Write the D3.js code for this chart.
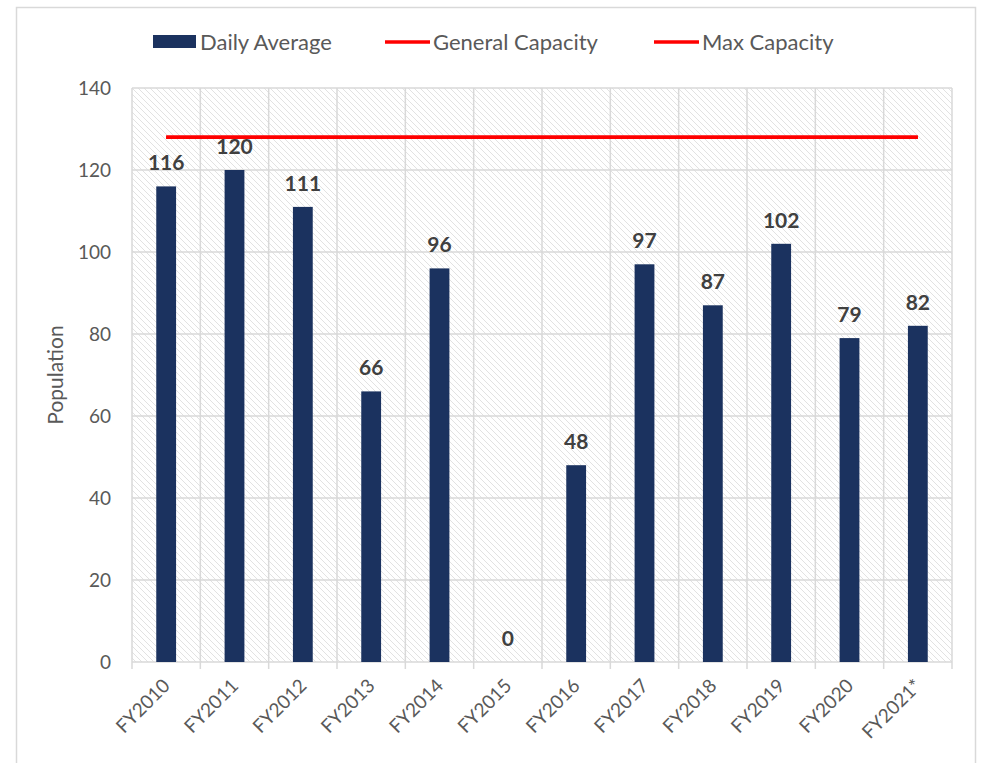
<!DOCTYPE html>
<html>
<head>
<meta charset="utf-8">
<script src="https://cdn.jsdelivr.net/npm/d3@7"></script>
<style>
  body { margin: 0; background: #fff; }
  svg { font-family: Lato, "Open Sans", sans-serif; }
  .axis path { display: none; }
  .axis text { fill: #595959; font-size: 19px; font-family: Lato, "Open Sans", sans-serif; }
</style>
</head>
<body>
<svg width="982" height="763"></svg>
<script>
var years = ["FY2010", "FY2011", "FY2012", "FY2013", "FY2014", "FY2015",
             "FY2016", "FY2017", "FY2018", "FY2019", "FY2020", "FY2021*"];
var dailyAverage = [116, 120, 111, 66, 96, 0, 48, 97, 87, 102, 79, 82];
var generalCapacity = [128, 128, 128, 128, 128, 128, 128, 128, 128, 128, 128, 128];
var maxCapacity = [128, 128, 128, 128, 128, 128, 128, 128, 128, 128, 128, 128];
var yTicks = [0, 20, 40, 60, 80, 100, 120, 140];
var legendKeys = ["Daily Average", "General Capacity", "Max Capacity"];

var svg = d3.select("svg"),
    margin = {top: 88, right: 30, bottom: 101, left: 132},
    width = 952 - margin.left,
    height = 662 - margin.top;

var barColor = "#1b325f", red = "#ff0000", grid = "#d9d9d9";

// outer frame
svg.append("rect")
    .attr("x", 16.5).attr("y", 7.5)
    .attr("width", 959).attr("height", 770)
    .attr("fill", "none")
    .attr("stroke", grid)
    .attr("stroke-width", 1.5);

// hatch pattern for plot area
var pat = svg.append("defs").append("pattern")
    .attr("id", "hatch")
    .attr("patternUnits", "userSpaceOnUse")
    .attr("width", 6).attr("height", 6);
pat.append("path")
    .attr("d", "M-1,-1 L7,7 M-1,5 L1,7 M5,-1 L7,1")
    .attr("stroke", "#e2e2e2")
    .attr("stroke-width", 1);

var x = d3.scaleBand().domain(years).range([0, width]);
var y = d3.scaleLinear().domain([0, 140]).range([height, 0]);

var g = svg.append("g")
    .attr("transform", "translate(" + margin.left + "," + margin.top + ")");

g.append("rect")
    .attr("width", width)
    .attr("height", height)
    .attr("fill", "url(#hatch)");

// gridlines
g.selectAll(".hgrid")
    .data(yTicks)
  .enter().append("line")
    .attr("x1", 0).attr("x2", width)
    .attr("y1", function(d) { return y(d); })
    .attr("y2", function(d) { return y(d); })
    .attr("stroke", grid)
    .attr("stroke-width", 1.5);

var bounds = years.map(function(d) { return x(d); }).concat([width]);
g.selectAll(".vgrid")
    .data(bounds)
  .enter().append("line")
    .attr("x1", function(d) { return d; })
    .attr("x2", function(d) { return d; })
    .attr("y1", 0).attr("y2", height + 7)
    .attr("stroke", grid)
    .attr("stroke-width", 1.5);

// bars
var barW = x.bandwidth() * 0.29;
g.selectAll(".bar")
    .data(dailyAverage)
  .enter().append("rect")
    .attr("x", function(d, i) { return x(years[i]) + (x.bandwidth() - barW) / 2; })
    .attr("y", function(d) { return y(d); })
    .attr("width", barW)
    .attr("height", function(d) { return height - y(d); })
    .attr("fill", barColor);

// data labels
g.selectAll(".lbl")
    .data(dailyAverage)
  .enter().append("text")
    .attr("x", function(d, i) { return x(years[i]) + x.bandwidth() / 2; })
    .attr("y", function(d) { return y(d) - 16; })
    .attr("text-anchor", "middle")
    .attr("font-size", 21)
    .attr("font-weight", "bold")
    .attr("fill", "#404040")
    .text(function(d) { return d; });

// capacity lines
var line = d3.line()
    .x(function(d, i) { return x(years[i]) + x.bandwidth() / 2; })
    .y(function(d) { return y(d); });

[generalCapacity, maxCapacity].forEach(function(s) {
  g.append("path")
      .datum(s)
      .attr("d", line)
      .attr("fill", "none")
      .attr("stroke", red)
      .attr("stroke-width", 3.5);
});

// axes
g.append("g")
    .attr("class", "axis")
    .call(d3.axisLeft(y).tickValues(yTicks).tickSize(0).tickPadding(21));

g.append("g")
    .attr("class", "axis")
    .attr("transform", "translate(0," + height + ")")
    .call(d3.axisBottom(x).tickSize(0))
  .selectAll("text")
    .attr("text-anchor", "end")
    .attr("dy", null)
    .attr("y", 0)
    .attr("transform", "translate(5,25) rotate(-45)");

svg.append("text")
    .attr("transform", "translate(63," + (margin.top + height / 2) + ") rotate(-90)")
    .attr("text-anchor", "middle")
    .attr("font-size", 21)
    .attr("fill", "#595959")
    .text("Population");

// legend
var legendX = [153, 385, 654];
var legend = svg.append("g")
    .selectAll("g")
    .data(legendKeys)
  .enter().append("g")
    .attr("transform", function(d, i) { return "translate(" + legendX[i] + ",42)"; });

legend.each(function(d, i) {
  var el = d3.select(this);
  if (i === 0) {
    el.append("rect").attr("x", 0).attr("y", -7).attr("width", 43).attr("height", 13).attr("fill", barColor);
  } else {
    el.append("line").attr("x1", 0).attr("x2", 45).attr("y1", 0).attr("y2", 0)
        .attr("stroke", red).attr("stroke-width", 3.5);
  }
  el.append("text")
      .attr("x", i === 0 ? 47 : 48)
      .attr("y", 8)
      .attr("font-size", 22)
      .attr("fill", "#595959")
      .text(d);
});
</script>
</body>
</html>
